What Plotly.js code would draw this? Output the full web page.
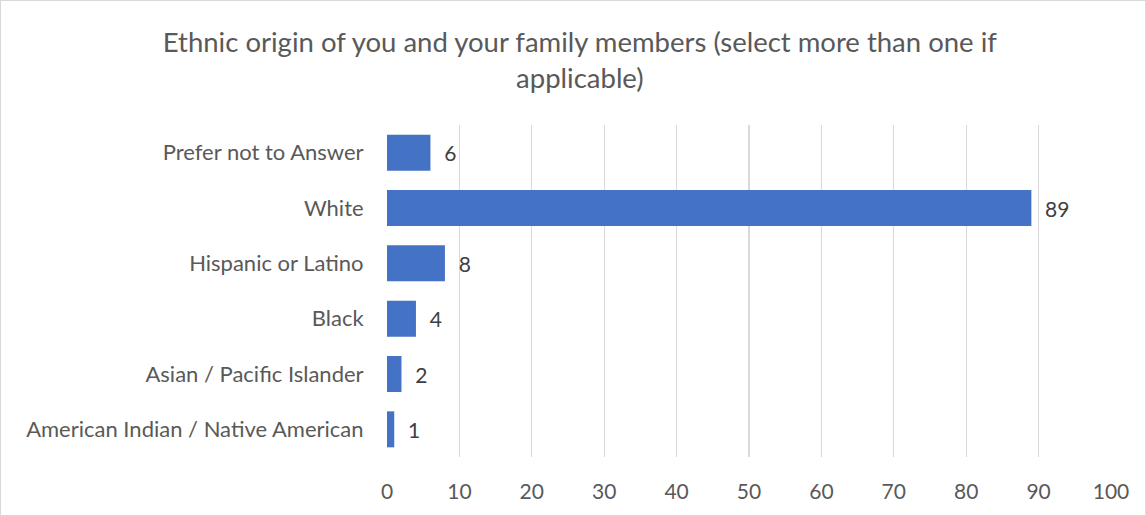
<!DOCTYPE html>
<html>
<head>
<meta charset="utf-8">
<script src="https://cdn.plot.ly/plotly-3.0.1.min.js"></script>
<style>
html,body{margin:0;padding:0;background:#fff;}
#chart{width:1144px;height:514px;border:1px solid #d9d9d9;}
</style>
</head>
<body>
<div id="chart"></div>
<script>
const categories = ["American Indian / Native American","Asian / Pacific Islander","Black","Hispanic or Latino","White","Prefer not to Answer"];
const counts = [1, 2, 4, 8, 89, 6];
const titleText = "Ethnic origin of you and your family members (select more than one if<br>applicable)";
const xTicks = [0,10,20,30,40,50,60,70,80,90,100];

const FONT = "Lato, 'Open Sans', sans-serif";
const trace = {
  type: "bar",
  orientation: "h",
  x: counts,
  y: categories,
  marker: {color: "#4472c4"},
  text: counts.map(v => "\u00a0\u00a0" + v),
  textposition: "outside",
  cliponaxis: false,
  textfont: {family: FONT, size: 21, color: "#404040"},
  hoverinfo: "none"
};
const layout = {
  width: 1144, height: 514,
  margin: {l: 386, r: 34, t: 124, b: 58},
  paper_bgcolor: "#fff", plot_bgcolor: "#fff",
  bargap: 0.35,
  showlegend: false,
  title: {text: titleText, x: 0.506, xanchor: "center", y: 0.90, yanchor: "top",
          font: {family: FONT, size: 27.5, color: "#595959"}},
  xaxis: {range: [0, 100], tickvals: xTicks, ticktext: xTicks.map(String),
          showgrid: true, gridcolor: "#d9d9d9", gridwidth: 1.3, zeroline: false,
          showline: false, ticks: "outside", ticklen: 16, tickcolor: "rgba(0,0,0,0)",
          tickfont: {family: FONT, size: 21, color: "#595959"}, automargin: false},
  yaxis: {type: "category", categoryorder: "array", categoryarray: categories,
          showgrid: false, zeroline: false, showline: false, ticks: "outside", ticklen: 18, tickcolor: "rgba(0,0,0,0)",
          tickfont: {family: FONT, size: 22, color: "#595959"}, automargin: false}
};
Plotly.newPlot("chart", [trace], layout, {displayModeBar: false, staticPlot: true});
</script>
</body>
</html>
